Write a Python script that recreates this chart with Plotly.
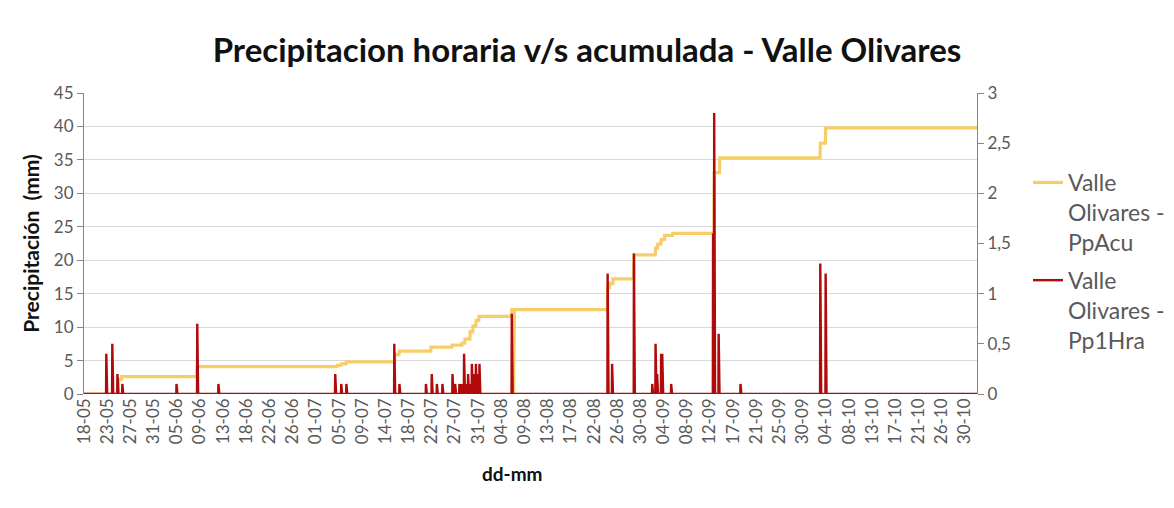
import numpy as np
import plotly.graph_objects as go

# ---------------- data ----------------
N_HOURS = 4007          # hourly records from 18-05 to the end of October
TICK_EVERY = 104        # one category label every 104 hourly records

tick_labels = ["18-05", "23-05", "27-05", "31-05", "05-06", "09-06", "13-06", "18-06",
               "22-06", "26-06", "01-07", "05-07", "09-07", "14-07", "18-07", "22-07",
               "27-07", "31-07", "04-08", "09-08", "13-08", "17-08", "22-08", "26-08",
               "30-08", "04-09", "08-09", "12-09", "17-09", "21-09", "25-09", "30-09",
               "04-10", "08-10", "13-10", "17-10", "21-10", "26-10", "30-10"]

# accumulated precipitation (mm, left axis): value holds from this record onward
acu_hours = [0, 155, 169, 508, 1136, 1154, 1177, 1394, 1414, 1557, 1651, 1696, 1709,
             1732, 1745, 1759, 1772, 1919, 1927, 1928, 2349, 2359, 2373, 2467, 2564,
             2574, 2589, 2605, 2641, 2827, 2852, 3303, 3327]
acu_values = [0.0, 2.2, 2.6, 4.1, 4.3, 4.5, 4.8, 5.9, 6.4, 7.0, 7.3, 7.6, 8.2,
              9.3, 10.2, 11.0, 11.6, 12.6, 0.0, 12.6, 15.9, 16.5, 17.2, 20.8, 21.8,
              22.4, 23.1, 23.7, 24.0, 33.1, 35.3, 37.5, 39.8]

# hourly precipitation (right axis): non-zero records only
hra_hours = [100, 127, 150, 172, 415, 508, 603, 1127, 1154, 1177, 1392, 1415,
             1534, 1560, 1583, 1608, 1653, 1665, 1684, 1695, 1705, 1714, 1723, 1730,
             1740, 1748, 1758, 1766, 1774, 1919, 2349, 2369, 2467, 2549, 2564, 2571,
             2589, 2594, 2634, 2822, 2827, 2847, 2945, 3303, 3327]
hra_values = [0.4, 0.5, 0.2, 0.1, 0.1, 0.7, 0.1, 0.2, 0.1, 0.1, 0.5, 0.1,
              0.1, 0.2, 0.1, 0.1, 0.2, 0.1, 0.1, 0.1, 0.4, 0.1, 0.2, 0.1,
              0.3, 0.2, 0.3, 0.2, 0.3, 0.8, 1.2, 0.3, 1.4, 0.1, 0.5, 0.2,
              0.4, 0.4, 0.1, 1.6, 2.8, 0.6, 0.1, 1.3, 1.2]

right_ticks = [0, 0.5, 1, 1.5, 2, 2.5, 3]
right_tick_text = ["0", "0,5", "1", "1,5", "2", "2,5", "3"]

# ---------------- series ----------------
x = np.arange(N_HOURS)
acu = np.zeros(N_HOURS)
bounds = acu_hours[1:] + [N_HOURS]
for start, end, val in zip(acu_hours, bounds, acu_values):
    acu[start:end] = val

hra = np.zeros(N_HOURS)
hra[np.array(hra_hours)] = hra_values

tickvals = [i * TICK_EVERY for i in range(len(tick_labels))]

FONT = "Lato"
GRID = "#D9D9D9"
AXIS = "#868686"
TXT = "#595959"

fig = go.Figure()
fig.add_trace(go.Scatter(x=x, y=acu, mode="lines", name="Valle<br>Olivares -<br>PpAcu",
                         legendgroup="acu",
                         line=dict(color="#F7CD6A", width=3.2), yaxis="y"))
fig.add_trace(go.Scatter(x=x, y=hra, mode="lines", name="Valle<br>Olivares -<br>Pp1Hra",
                         legendgroup="hra",
                         line=dict(color="#B00A0A", width=2.4), yaxis="y2"))

# page has an 8px body margin; figure coordinates are page coordinates - 8
OFF = 8
W, H = 1174 - OFF, 508 - OFF
PL, PR, PT, PB = 84 - OFF, 977 - OFF, 93 - OFF, 394 - OFF
pw, ph = PR - PL, PB - PT

fig.update_layout(
    width=W, height=H,
    margin=dict(l=PL, r=W - PR, t=PT, b=H - PB, autoexpand=False),
    paper_bgcolor="white", plot_bgcolor="white",
    font=dict(family=FONT, color=TXT),
    title=dict(text="<b>Precipitacion horaria v/s acumulada - Valle Olivares</b>",
               x=(587 - OFF) / W, xanchor="center", xref="container",
               y=1 - (50 - OFF) / H, yanchor="middle", yref="container",
               font=dict(family=FONT, size=33, color="#111111")),
    xaxis=dict(range=[0, N_HOURS - 1], tickmode="array", tickvals=tickvals,
               ticktext=tick_labels, tickangle=-90, showgrid=False, zeroline=False,
               showline=False, ticks="", tickfont=dict(size=17, color=TXT),
               automargin=False),
    yaxis=dict(range=[0, 45], dtick=5, tick0=0, showgrid=True, gridcolor=GRID,
               gridwidth=1, zeroline=False, showline=True, linecolor=AXIS,
               ticks="outside", ticklen=6, tickcolor=AXIS,
               tickfont=dict(size=17, color=TXT), automargin=False,
               title=dict(text="<b>Precipitación\u00a0 (mm)</b>",
                          font=dict(size=21, color="#111111"), standoff=8)),
    yaxis2=dict(range=[0, 3], overlaying="y", side="right", tickmode="array",
                tickvals=right_ticks, ticktext=right_tick_text, showgrid=False,
                zeroline=False, showline=True, linecolor=AXIS, ticks="outside",
                ticklen=6, tickcolor=AXIS, tickfont=dict(size=17, color=TXT),
                automargin=False),
    legend=dict(x=(1028 - OFF - PL) / pw, xanchor="left", y=(PB - (161 - OFF)) / ph,
                yanchor="top", valign="top", font=dict(size=23, color=TXT),
                bgcolor="rgba(0,0,0,0)", tracegroupgap=5),
    showlegend=True,
    annotations=[
        dict(text="<b>dd-mm</b>", xref="paper", yref="paper",
             x=(512 - OFF - PL) / pw, y=(PB - (473 - OFF)) / ph,
             xanchor="center", yanchor="middle", showarrow=False,
             font=dict(family=FONT, size=19, color="#111111")),
    ],
)

fig.write_html("out.html")
